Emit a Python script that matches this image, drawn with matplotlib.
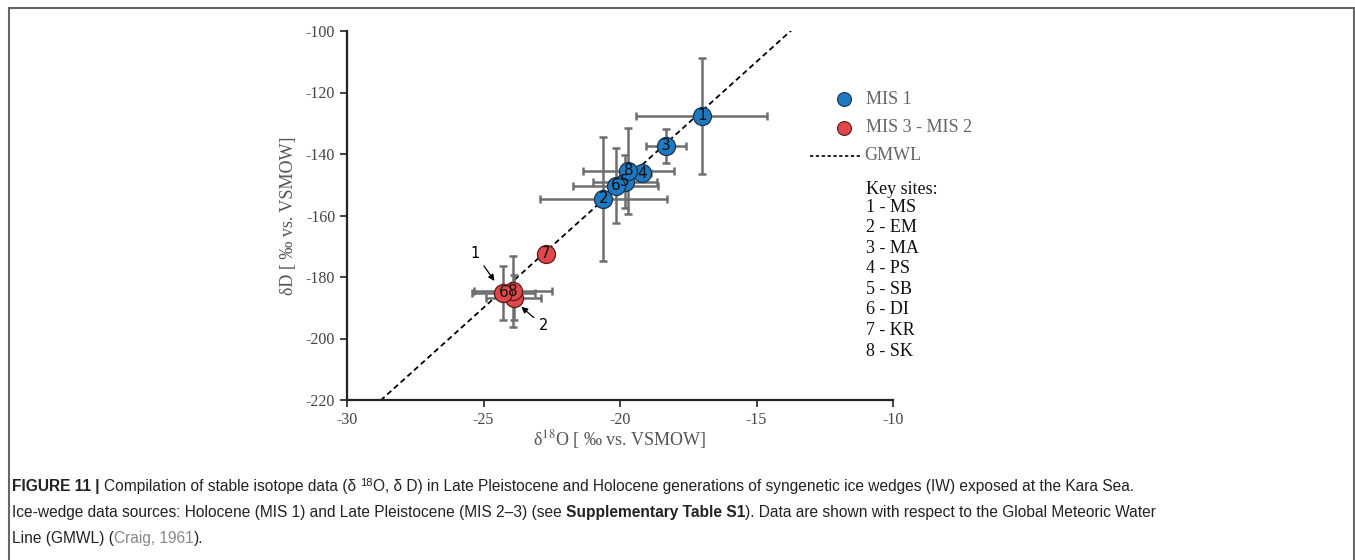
import matplotlib
matplotlib.use("Agg")
import matplotlib.pyplot as plt
from matplotlib.lines import Line2D
from matplotlib.patches import Rectangle
import numpy as np

# data
# MIS 1 (Holocene) ice wedges
site_mis1 = ["1", "3", "2", "5", "6", "4", "8"]
d18o_mis1 = [-17.0, -18.32, -20.61, -19.82, -20.16, -19.18, -19.69]
dd_mis1 = [-127.6, -137.3, -154.6, -149.0, -150.3, -146.3, -145.5]
d18o_err_mis1 = [2.4, 0.74, 2.32, 1.16, 1.56, 0.3, 1.68]
dd_err_mis1 = [18.8, 5.5, 20.2, 8.7, 12.3, 1.0, 14.1]

# MIS 3 - MIS 2 (Late Pleistocene) ice wedges
site_mis3 = ["7", "", "8", "6"]
d18o_mis3 = [-22.71, -23.9, -23.93, -24.27]
dd_mis3 = [-172.5, -186.7, -184.6, -185.1]
d18o_err_mis3 = [0.27, 1.0, 1.43, 1.15]
dd_err_mis3 = [1.2, 7.3, 11.5, 8.8]

key_sites = ["1 - MS", "2 - EM", "3 - MA", "4 - PS", "5 - SB", "6 - DI", "7 - KR", "8 - SK"]

x_ticks = [-30, -25, -20, -15, -10]
y_ticks = [-220, -200, -180, -160, -140, -120, -100]

BLUE = "#1f78c0"
RED = "#e0474b"
ERR = "#6e6e6e"
SERIF = ["Liberation Serif", "DejaVu Serif"]
SANS = ["Liberation Sans", "DejaVu Sans"]

plt.rcParams["mathtext.fontset"] = "stix"

fig = plt.figure(figsize=(13.55, 5.6), dpi=100)
W, H = 1355, 560

def fx(px):
    return px / W

def fy(py):
    return 1 - py / H

ax = fig.add_axes([fx(347), fy(400), fx(893) - fx(347), fy(31) - fy(400)])

# GMWL (Craig, 1961): dD = 8 * d18O + 10
gx = np.array([-30.0, -10.0])
ax.plot(gx, 8 * gx + 10, ls=(0, (3, 2)), color="black", lw=1.3, zorder=1)

def draw_group(xs, ys, xe, ye, labels, color):
    for x, y, ex, ey in zip(xs, ys, xe, ye):
        ax.errorbar(x, y, xerr=ex, yerr=ey, fmt="none", ecolor=ERR,
                    elinewidth=1.8, capsize=3, capthick=1.8, zorder=2)
    for x, y, lab in zip(xs, ys, labels):
        ax.plot(x, y, "o", ms=13, mfc=color, mec="#1a3550" if color == BLUE else "#5a1a1a",
                mew=0.9, zorder=3)
        if lab:
            ax.text(x, y, lab, ha="center", va="center", fontsize=11,
                    family="DejaVu Sans", color="#111111", zorder=4)

draw_group(d18o_mis1, dd_mis1, d18o_err_mis1, dd_err_mis1, site_mis1, BLUE)
draw_group(d18o_mis3, dd_mis3, d18o_err_mis3, dd_err_mis3, site_mis3, RED)

# arrows pointing at individual samples
arw = dict(arrowstyle="-|>", color="black", lw=0.9, mutation_scale=9)
ax.annotate("1", xy=(-24.54, -182.0), xytext=(-25.31, -172.3), ha="center", va="center",
            fontsize=10.5, family="DejaVu Sans", arrowprops=arw, zorder=5)
ax.annotate("2", xy=(-23.69, -189.1), xytext=(-22.81, -195.9), ha="center", va="center",
            fontsize=10.5, family="DejaVu Sans", arrowprops=arw, zorder=5)

ax.set_xlim(-30, -10)
ax.set_ylim(-220, -100)
ax.set_xticks(x_ticks)
ax.set_yticks(y_ticks)
ax.set_xticklabels([str(t) for t in x_ticks], family=SERIF, fontsize=11.5, color="#444444")
ax.set_yticklabels([str(t) for t in y_ticks], family=SERIF, fontsize=11.5, color="#444444")
ax.tick_params(direction="out", length=5, width=1.2, color="#222222")
for s in ["top", "right"]:
    ax.spines[s].set_visible(False)
for s in ["left", "bottom"]:
    ax.spines[s].set_linewidth(1.6)
    ax.spines[s].set_color("#222222")
ax.set_xlabel("δ$^{18}$O [ ‰ vs. VSMOW]", family=SERIF, fontsize=13, color="#555555", labelpad=0)
ax.set_ylabel("δD [ ‰ vs. VSMOW]", family=SERIF, fontsize=13, color="#555555", labelpad=6)

# legend drawn by hand
fig.add_artist(Line2D([fx(844)], [fy(99)], marker="o", ms=10, mfc=BLUE, mec="#1a3550", mew=0.8,
                      transform=fig.transFigure))
fig.text(fx(866), fy(99), "MIS 1", family=SERIF, fontsize=13, color="#666666", va="center")
fig.add_artist(Line2D([fx(844)], [fy(128)], marker="o", ms=10, mfc=RED, mec="#5a1a1a", mew=0.8,
                      transform=fig.transFigure))
fig.text(fx(866), fy(128), "MIS 3 - MIS 2", family=SERIF, fontsize=13, color="#666666", va="center")
fig.add_artist(Line2D([fx(810), fx(862)], [fy(156), fy(156)], ls=(0, (2, 1.5)), color="black", lw=1.2,
                      transform=fig.transFigure))
fig.text(fx(864), fy(156), "GMWL", family=SERIF, fontsize=13, color="#666666", va="center")
fig.text(fx(866), fy(189), "Key sites:", family=SERIF, fontsize=13, color="#111111", va="center")
for i, k in enumerate(key_sites):
    fig.text(fx(866), fy(207 + i * 20.6), k, family=SERIF, fontsize=13, color="#111111", va="center")

# figure border
fig.add_artist(Rectangle((fx(9), fy(575)), fx(1354) - fx(9), fy(8) - fy(575), fill=False,
                         ec="#666666", lw=1.5, transform=fig.transFigure))

# caption with mixed styles
fig.canvas.draw()
renderer = fig.canvas.get_renderer()

def rich_line(x0, y0, parts):
    x = x0
    for s, kw in parts:
        opts = dict(family=SANS, fontsize=11.2, color="#222222", va="baseline")
        dy = 0
        if kw.get("sup"):
            opts["fontsize"] = 8
            dy = 5
        for k in ("weight", "color"):
            if k in kw:
                opts[k] = kw[k]
        t = fig.text(fx(x), fy(y0 - dy), s, **opts)
        x += t.get_window_extent(renderer).width

rich_line(12, 491, [("FIGURE 11 | ", {"weight": "bold"}),
                    ("Compilation of stable isotope data (δ ", {}),
                    ("18", {"sup": True}),
                    ("O, δ D) in Late Pleistocene and Holocene generations of syngenetic ice wedges (IW) exposed at the Kara Sea.", {})])
rich_line(12, 517, [("Ice-wedge data sources: Holocene (MIS 1) and Late Pleistocene (MIS 2–3) (see ", {}),
                    ("Supplementary Table S1", {"weight": "bold"}),
                    ("). Data are shown with respect to the Global Meteoric Water", {})])
rich_line(12, 543, [("Line (GMWL) (", {}),
                    ("Craig, 1961", {"color": "#888888"}),
                    (").", {})])

fig.savefig("out.png", dpi=100)
